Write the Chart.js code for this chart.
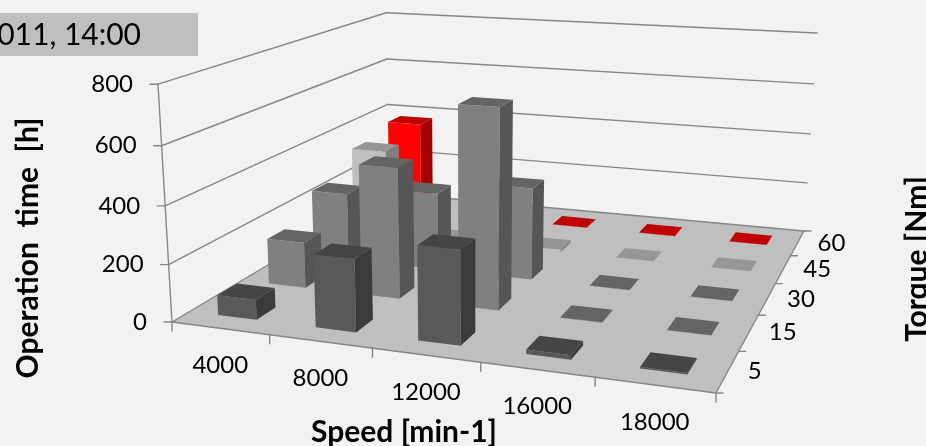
<!DOCTYPE html>
<html>
<head>
<meta charset="utf-8">
<title>Operation time</title>
<script src="https://cdn.jsdelivr.net/npm/chart.js@4"></script>
<style>
  html, body { margin: 0; padding: 0; background: #f2f2f2; overflow: hidden; }
  canvas { display: block; }
</style>
</head>
<body>
<canvas id="myChart" width="926" height="446"></canvas>
<script>
const speeds = ["4000", "8000", "12000", "16000", "18000"];
const torques = ["5", "15", "30", "45", "60"];
const yTicks = [0, 200, 400, 600, 800];

const torque5 = [70, 250, 318, 15, 5];
const torque15 = [167, 468, 702, 1, 1];
const torque30 = [255, 290, 340, 1, 1];
const torque45 = [340, 5, 10, 1, 1];
const torque60 = [378, 1, 1, 1, 1];

// front, side, top
const colors5 = ["#595959", "#3b3b3b", "#454545"];
const colors15 = ["#808080", "#565656", "#646464"];
const colors30 = ["#808080", "#565656", "#646464"];
const colors45 = ["#bfbfbf", "#7f7f7f", "#969696"];
const colors60 = ["#ff0000", "#a60000", "#c00000"];

const lineColor = "#868686";
const textFont = "Lato";

// floor corners and the vertical vanishing point
const FL = [172, 322], FR = [716, 393], BR = [804, 231], BL = [389, 193];
const VP = [468, 5350];
const K = -0.04516;

const dx1 = FR[0] - BR[0], dx2 = BL[0] - BR[0], sx = FL[0] - FR[0] + BR[0] - BL[0];
const dy1 = FR[1] - BR[1], dy2 = BL[1] - BR[1], sy = FL[1] - FR[1] + BR[1] - BL[1];
const den = dx1 * dy2 - dx2 * dy1;
const G = (sx * dy2 - dx2 * sy) / den;
const H = (dx1 * sy - sx * dy1) / den;

function project(u, v, w) {
  const q = (G * u + H * v + 1) + K * w;
  const x = (FR[0] - FL[0] + G * FR[0]) * u + (BL[0] - FL[0] + H * BL[0]) * v + FL[0] + K * w * VP[0];
  const y = (FR[1] - FL[1] + G * FR[1]) * u + (BL[1] - FL[1] + H * BL[1]) * v + FL[1] + K * w * VP[1];
  return [x / q, y / q];
}

function poly(ctx, pts, fill) {
  ctx.beginPath();
  pts.forEach((p, i) => (i ? ctx.lineTo(p[0], p[1]) : ctx.moveTo(p[0], p[1])));
  ctx.closePath();
  ctx.fillStyle = fill;
  ctx.fill();
}

function seg(ctx, a, b, width) {
  ctx.beginPath();
  ctx.moveTo(a[0], a[1]);
  ctx.lineTo(b[0], b[1]);
  ctx.lineWidth = width || 1.4;
  ctx.strokeStyle = lineColor;
  ctx.stroke();
}

function label(ctx, text, x, y, align, font) {
  ctx.font = font;
  ctx.textAlign = align;
  ctx.textBaseline = "middle";
  ctx.fillStyle = "#000";
  ctx.fillText(text, x, y);
}

function rotated(ctx, text, x, y, font) {
  ctx.save();
  ctx.translate(x, y);
  ctx.rotate(-Math.PI / 2);
  label(ctx, text, 0, 0, "center", font);
  ctx.restore();
}

const bars3d = {
  id: "bars3d",
  beforeDatasetsDraw(chart) {
    const { ctx, scales } = chart;
    const sx_ = scales.x, sy_ = scales.y, sz = scales.z;
    // scale pixels to 0..1 along each of the three axes
    const U = (i) => (sx_.getPixelForValue(i) - sx_.left) / sx_.width;
    const V = (i) => (sz.getPixelForValue(i) - sz.left) / sz.width;
    const W = (val) => (sy_.bottom - sy_.getPixelForValue(val)) / sy_.height;

    ctx.save();
    ctx.lineCap = "round";

    // floor
    poly(ctx, [FL, FR, BR, BL], "#bfbfbf");

    // wall gridlines with their ticks and labels
    yTicks.forEach((t) => {
      const w = W(t);
      const a = project(0, 0, w), b = project(0, 1, w), c = project(1, 1, w);
      seg(ctx, a, b);
      seg(ctx, b, c);
      seg(ctx, [a[0] - 8, a[1]], a);
      label(ctx, String(t), a[0] - 25, a[1], "right", "24px " + textFont);
    });
    seg(ctx, project(0, 0, 0), project(0, 0, 1));

    // floor edges
    seg(ctx, FL, FR);
    seg(ctx, FR, BR);

    // speed axis
    speeds.forEach((s, i) => {
      const p = project(U(i - 0.5), 0, 0);
      seg(ctx, p, [p[0], p[1] + 9]);
      const m = project(U(i), 0, 0);
      label(ctx, s, m[0], m[1] + 37, "center", "24px " + textFont);
    });
    seg(ctx, FR, [FR[0], FR[1] + 9]);

    // torque axis
    torques.forEach((s, i) => {
      const p = project(1, V(i + 0.5), 0);
      seg(ctx, p, [p[0] + 7, p[1]]);
      const m = project(1, V(i), 0);
      label(ctx, s, m[0] + 20, m[1], "left", "24px " + textFont);
    });
    seg(ctx, FR, [FR[0] + 7, FR[1]]);

    // bars, back row first, left to right
    const cellU = U(1) - U(0), cellV = V(1) - V(0);
    const halfU = cellU * 0.2, halfV = cellV * 0.185;
    for (let r = chart.data.datasets.length - 1; r >= 0; r--) {
      const ds = chart.data.datasets[r];
      ds.data.forEach((val, c) => {
        const u = U(c), v = V(r), w = W(val);
        const u0 = u - halfU, u1 = u + halfU, v0 = v - halfV, v1 = v + halfV;
        const [front, side, top] = ds.faceColors;
        poly(ctx, [project(u0, v0, 0), project(u1, v0, 0), project(u1, v0, w), project(u0, v0, w)], front);
        poly(ctx, [project(u1, v0, 0), project(u1, v1, 0), project(u1, v1, w), project(u1, v0, w)], side);
        poly(ctx, [project(u0, v0, w), project(u1, v0, w), project(u1, v1, w), project(u0, v1, w)], top);
      });
    }

    // date box
    ctx.fillStyle = "#bfbfbf";
    ctx.fillRect(0, 13, 198, 43);
    label(ctx, "2011, 14:00", 141, 35, "right", "30px " + textFont);

    // axis titles
    label(ctx, "Speed [min-1]", 404, 432, "center", "bold 30px " + textFont);
    rotated(ctx, "Operation  time  [h]", 28, 248, "bold 30px " + textFont);
    rotated(ctx, "Torque [Nm]", 917, 259, "bold 30px " + textFont);

    ctx.restore();
    return false; // the plugin has drawn the marks
  },
};

new Chart(document.getElementById("myChart"), {
  type: "bar",
  data: {
    labels: speeds,
    datasets: [
      { label: "5", data: torque5, faceColors: colors5 },
      { label: "15", data: torque15, faceColors: colors15 },
      { label: "30", data: torque30, faceColors: colors30 },
      { label: "45", data: torque45, faceColors: colors45 },
      { label: "60", data: torque60, faceColors: colors60 },
    ],
  },
  options: {
    responsive: false,
    animation: false,
    layout: { padding: 0 },
    plugins: { legend: { display: false }, tooltip: { enabled: false } },
    scales: {
      x: { type: "category", offset: true, display: false },
      y: { min: 0, max: 800, display: false },
      z: { type: "category", axis: "x", position: "bottom", labels: torques, offset: true, display: false },
    },
  },
  plugins: [bars3d],
});
</script>
</body>
</html>
